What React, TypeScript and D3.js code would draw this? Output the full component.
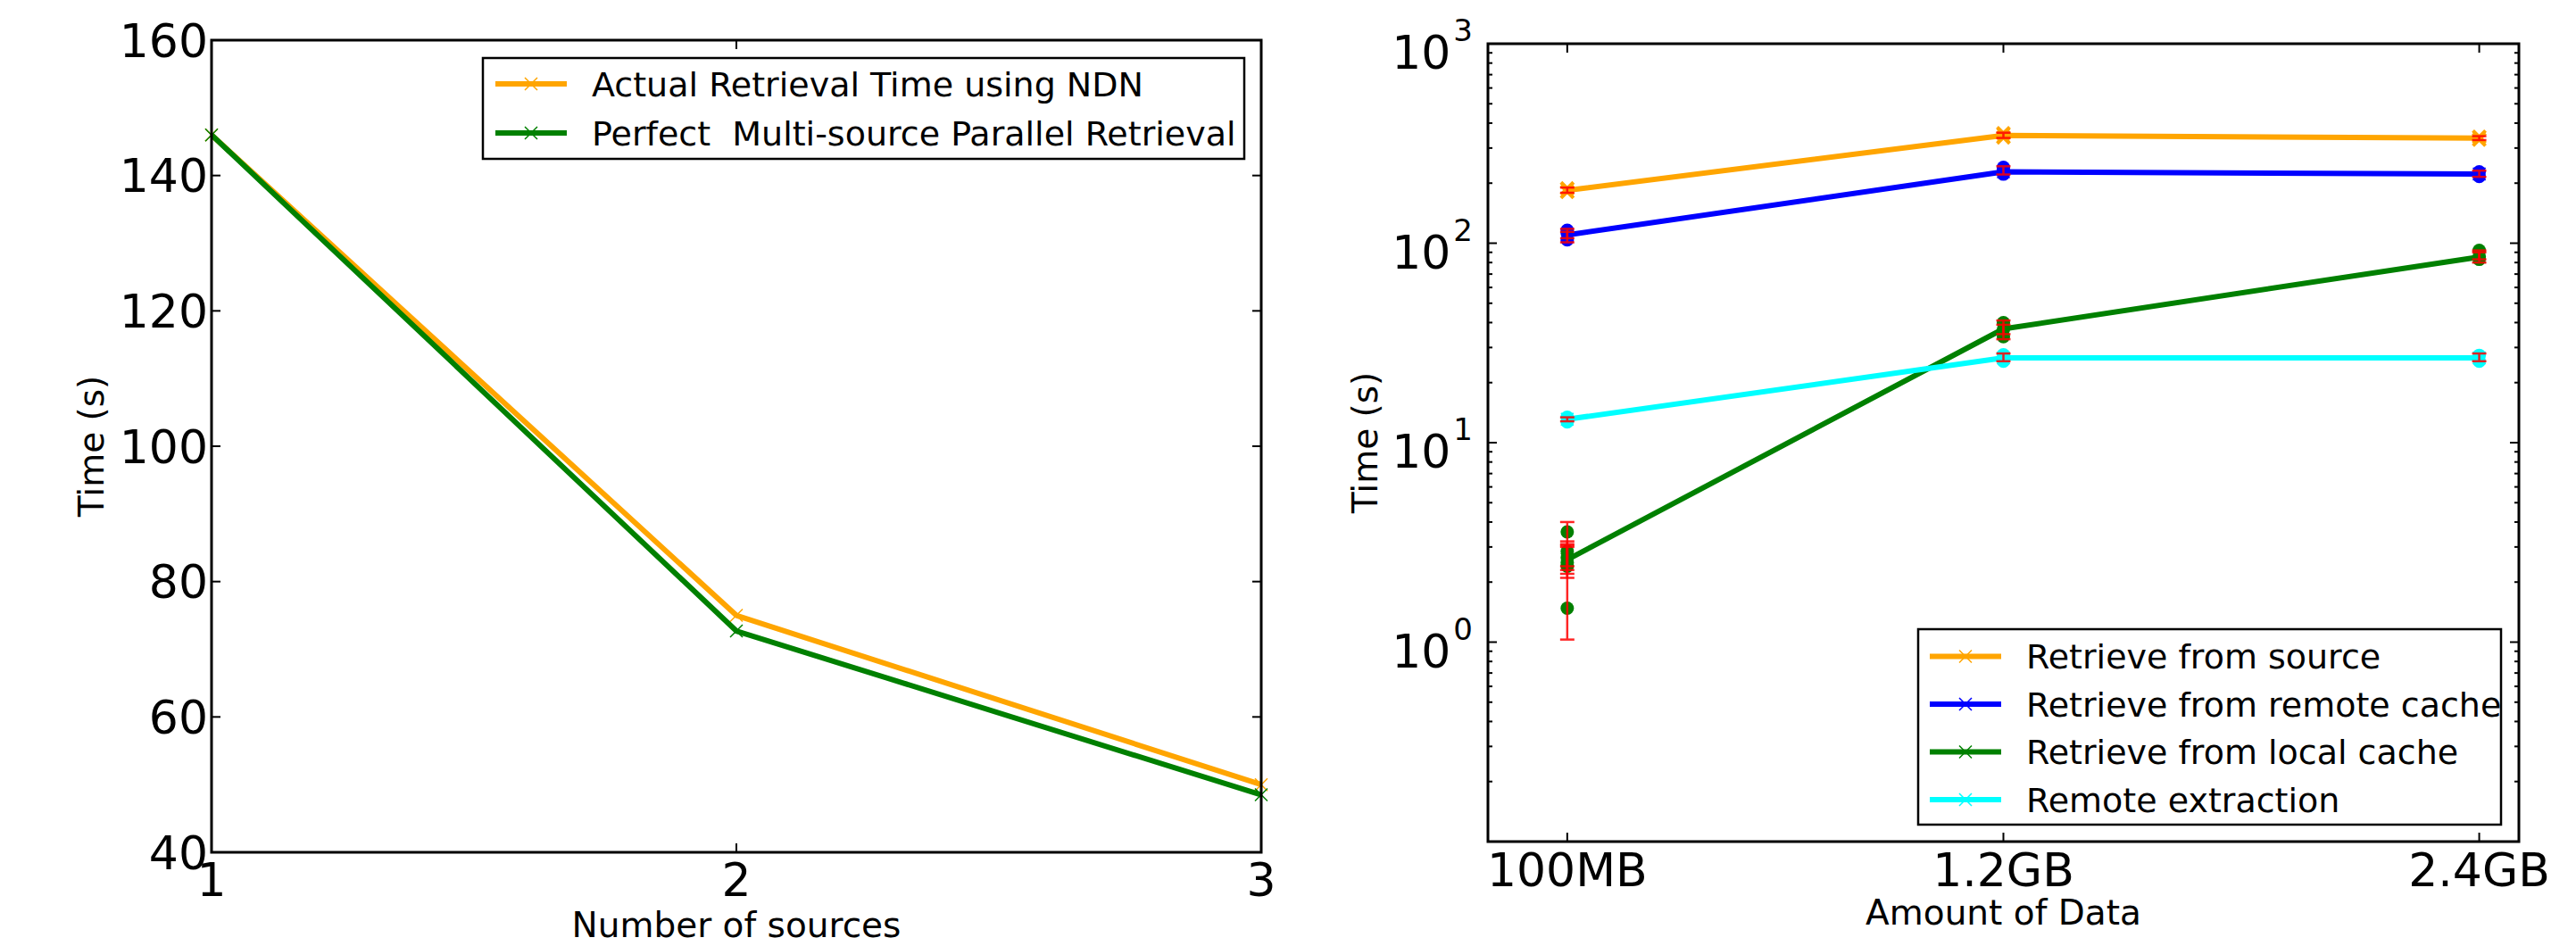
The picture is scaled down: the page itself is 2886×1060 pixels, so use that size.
import React, { useRef, useEffect } from "react";
import * as d3 from "d3";

// left panel: retrieval time vs number of sources
const sources = [1, 2, 3];
const actualNdn = [146, 75, 50];
const perfectParallel = [146, 72.7, 48.5];
const leftYTicks = [40, 60, 80, 100, 120, 140, 160];
const leftNames = ["Actual Retrieval Time using NDN", "Perfect  Multi-source Parallel Retrieval"];

// right panel: time vs amount of data (GB)
const dataSizes = [0.1, 1.2, 2.4];
const dataLabels = ["100MB", "1.2GB", "2.4GB"];
const rightNames = ["Retrieve from source", "Retrieve from remote cache", "Retrieve from local cache", "Remote extraction"];
const fromSource = [184, 347, 336];
const fromRemote = [110, 228, 222];
const fromLocal = [2.59, 37.2, 85.3];
const remoteExtract = [13.1, 26.6, 26.6];

// single runs (dots) per data size
const fromSourceRuns = [[181, 188], [340, 355], [331, 341]];
const fromRemoteRuns = [[104, 112, 116], [222, 232, 240], [216, 228]];
const fromLocalRuns = [[3.57, 2.85, 2.65, 2.5, 2.4, 1.48], [34, 37, 40], [83, 86, 92]];
const remoteExtractRuns = [[12.7, 13.4], [25.6, 27.6], [25.6, 27.4]];

// red error bars [low, high] per data size
const fromSourceErr = [[[179, 190]], [[337, 358]], [[329, 344]]];
const fromRemoteErr = [[[101, 118], [106, 114]], [[221, 243]], [[215, 231]]];
const fromLocalErr = [
  [[1.03, 4.0], [2.1, 3.2], [2.2, 3.1], [2.3, 3.05], [2.4, 3.0]],
  [[33, 41], [35, 39]],
  [[80, 92], [83, 90]],
];
const remoteExtractErr = [[[12.8, 13.4]], [[25.6, 28]], [[25.6, 28]]];

const W = 2886;
const H = 1060;
const FONT = "DejaVu Sans, sans-serif";

const drawX = (g, cx, cy, r, color, sw) => {
  g.append("path")
    .attr("d", `M${cx - r},${cy - r}L${cx + r},${cy + r}M${cx - r},${cy + r}L${cx + r},${cy - r}`)
    .attr("stroke", color)
    .attr("stroke-width", sw)
    .attr("fill", "none");
};

const App = () => {
  const svgRef = useRef();

  useEffect(() => {
    const svg = d3.select(svgRef.current);
    svg.selectAll("*").remove();
    svg.append("rect").attr("width", W).attr("height", H).attr("fill", "white");

    // ---------- left panel ----------
    const L = { left: 237, right: 1413, top: 45, bottom: 955 };
    const xL = d3.scaleLinear().domain([1, 3]).range([L.left, L.right]);
    const yL = d3.scaleLinear().domain([40, 160]).range([L.bottom, L.top]);
    const gL = svg.append("g");

    const leftSeries = [
      { values: actualNdn, color: "#FFA500" },
      { values: perfectParallel, color: "#008000" },
    ];
    const lineL = d3
      .line()
      .x((d, i) => xL(sources[i]))
      .y((d) => yL(d));
    leftSeries.forEach((s) => {
      gL.append("path")
        .datum(s.values)
        .attr("d", lineL)
        .attr("fill", "none")
        .attr("stroke", s.color)
        .attr("stroke-width", 6)
        .attr("stroke-linejoin", "round");
      s.values.forEach((v, i) => drawX(gL, xL(sources[i]), yL(v), 7, s.color, 1.5));
    });

    // ticks
    leftYTicks.forEach((t) => {
      gL.append("line").attr("x1", L.left).attr("x2", L.left + 10).attr("y1", yL(t)).attr("y2", yL(t)).attr("stroke", "black").attr("stroke-width", 2);
      gL.append("line").attr("x1", L.right).attr("x2", L.right - 10).attr("y1", yL(t)).attr("y2", yL(t)).attr("stroke", "black").attr("stroke-width", 2);
      gL.append("text")
        .attr("x", L.left - 4)
        .attr("y", yL(t))
        .attr("dy", "0.36em")
        .attr("text-anchor", "end")
        .style("font-size", "52px")
        .style("font-family", FONT)
        .text(t);
    });
    sources.forEach((t) => {
      gL.append("line").attr("x1", xL(t)).attr("x2", xL(t)).attr("y1", L.bottom).attr("y2", L.bottom - 10).attr("stroke", "black").attr("stroke-width", 2);
      gL.append("line").attr("x1", xL(t)).attr("x2", xL(t)).attr("y1", L.top).attr("y2", L.top + 10).attr("stroke", "black").attr("stroke-width", 2);
      gL.append("text")
        .attr("x", xL(t))
        .attr("y", L.bottom + 49)
        .attr("text-anchor", "middle")
        .style("font-size", "52px")
        .style("font-family", FONT)
        .text(t);
    });

    gL.append("rect")
      .attr("x", L.left)
      .attr("y", L.top)
      .attr("width", L.right - L.left)
      .attr("height", L.bottom - L.top)
      .attr("fill", "none")
      .attr("stroke", "black")
      .attr("stroke-width", 3);

    gL.append("text")
      .attr("x", (L.left + L.right) / 2)
      .attr("y", 1050)
      .attr("text-anchor", "middle")
      .style("font-size", "39px")
      .style("font-family", FONT)
      .text("Number of sources");
    gL.append("text")
      .attr("transform", `translate(116,${(L.top + L.bottom) / 2}) rotate(-90)`)
      .attr("text-anchor", "middle")
      .style("font-size", "39px")
      .style("font-family", FONT)
      .text("Time (s)");

    // legend
    const legL = gL.append("g");
    legL.append("rect").attr("x", 541).attr("y", 65).attr("width", 853).attr("height", 113).attr("fill", "white").attr("stroke", "black").attr("stroke-width", 2.5);
    leftSeries.forEach((s, i) => {
      const yy = 94 + i * 55;
      legL.append("line").attr("x1", 555).attr("x2", 635).attr("y1", yy).attr("y2", yy).attr("stroke", s.color).attr("stroke-width", 6);
      drawX(legL, 595, yy, 7, s.color, 1.5);
      legL.append("text")
        .attr("x", 663)
        .attr("y", yy)
        .attr("dy", "0.36em")
        .style("font-size", "38px")
        .style("font-family", FONT)
        .style("white-space", "pre")
        .text(leftNames[i]);
    });

    // ---------- right panel ----------
    const R = { left: 1667, right: 2822, top: 49, bottom: 943 };
    const xR = d3.scaleLinear().domain([-0.1, 2.5]).range([R.left, R.right]);
    const yR = d3.scaleLog().domain([0.1, 1000]).range([R.bottom, R.top]);
    const gR = svg.append("g");

    const rightSeries = [
      { values: fromSource, runs: fromSourceRuns, err: fromSourceErr, color: "#FFA500", dot: "x" },
      { values: fromRemote, runs: fromRemoteRuns, err: fromRemoteErr, color: "#0000FF", dot: "o" },
      { values: fromLocal, runs: fromLocalRuns, err: fromLocalErr, color: "#008000", dot: "o" },
      { values: remoteExtract, runs: remoteExtractRuns, err: remoteExtractErr, color: "#00FFFF", dot: "o" },
    ];
    const lineR = d3
      .line()
      .x((d, i) => xR(dataSizes[i]))
      .y((d) => yR(d));

    rightSeries.forEach((s) => {
      gR.append("path")
        .datum(s.values)
        .attr("d", lineR)
        .attr("fill", "none")
        .attr("stroke", s.color)
        .attr("stroke-width", 6)
        .attr("stroke-linejoin", "round");
      s.values.forEach((v, i) => drawX(gR, xR(dataSizes[i]), yR(v), 7, s.color, 1.5));
    });

    // single runs
    rightSeries.forEach((s) => {
      s.runs.forEach((runs, i) => {
        runs.forEach((v) => {
          if (s.dot === "x") {
            drawX(gR, xR(dataSizes[i]), yR(v), 7, s.color, 4);
          } else {
            gR.append("circle").attr("cx", xR(dataSizes[i])).attr("cy", yR(v)).attr("r", 7.5).attr("fill", s.color);
          }
        });
      });
    });

    // error bars
    rightSeries.forEach((s) => {
      s.err.forEach((bars, i) => {
        const cx = xR(dataSizes[i]);
        bars.forEach(([lo, hi]) => {
          const eg = gR.append("g").attr("stroke", "#FF0000").attr("stroke-width", 2.5).attr("opacity", 0.85);
          eg.append("line").attr("x1", cx).attr("x2", cx).attr("y1", yR(lo)).attr("y2", yR(hi));
          eg.append("line").attr("x1", cx - 8).attr("x2", cx + 8).attr("y1", yR(lo)).attr("y2", yR(lo));
          eg.append("line").attr("x1", cx - 8).attr("x2", cx + 8).attr("y1", yR(hi)).attr("y2", yR(hi));
        });
      });
    });

    // log ticks
    const decades = [0.1, 1, 10, 100, 1000];
    decades.forEach((d) => {
      [R.left, R.right].forEach((xs, k) => {
        const dir = k === 0 ? 1 : -1;
        gR.append("line").attr("x1", xs).attr("x2", xs + dir * 10).attr("y1", yR(d)).attr("y2", yR(d)).attr("stroke", "black").attr("stroke-width", 2);
      });
      if (d < 1000) {
        d3.range(2, 10).forEach((m) => {
          const v = d * m;
          [R.left, R.right].forEach((xs, k) => {
            const dir = k === 0 ? 1 : -1;
            gR.append("line").attr("x1", xs).attr("x2", xs + dir * 5).attr("y1", yR(v)).attr("y2", yR(v)).attr("stroke", "black").attr("stroke-width", 2);
          });
        });
      }
      if (d >= 1) {
        const exp = Math.round(Math.log10(d));
        const t = gR.append("text")
          .attr("x", R.left - 17)
          .attr("y", yR(d) + 28)
          .attr("text-anchor", "end")
          .style("font-family", FONT);
        t.append("tspan").style("font-size", "52px").text("10");
        t.append("tspan").attr("dy", -31).attr("dx", 3).style("font-size", "34px").text(exp);
      }
    });

    dataSizes.forEach((v, i) => {
      gR.append("line").attr("x1", xR(v)).attr("x2", xR(v)).attr("y1", R.bottom).attr("y2", R.bottom - 10).attr("stroke", "black").attr("stroke-width", 2);
      gR.append("line").attr("x1", xR(v)).attr("x2", xR(v)).attr("y1", R.top).attr("y2", R.top + 10).attr("stroke", "black").attr("stroke-width", 2);
      gR.append("text")
        .attr("x", xR(v))
        .attr("y", R.bottom + 50)
        .attr("text-anchor", "middle")
        .style("font-size", "52px")
        .style("font-family", FONT)
        .text(dataLabels[i]);
    });

    gR.append("rect")
      .attr("x", R.left)
      .attr("y", R.top)
      .attr("width", R.right - R.left)
      .attr("height", R.bottom - R.top)
      .attr("fill", "none")
      .attr("stroke", "black")
      .attr("stroke-width", 3);

    gR.append("text")
      .attr("x", (R.left + R.right) / 2)
      .attr("y", 1036)
      .attr("text-anchor", "middle")
      .style("font-size", "39px")
      .style("font-family", FONT)
      .text("Amount of Data");
    gR.append("text")
      .attr("transform", `translate(1543,${(R.top + R.bottom) / 2}) rotate(-90)`)
      .attr("text-anchor", "middle")
      .style("font-size", "39px")
      .style("font-family", FONT)
      .text("Time (s)");

    // legend
    const legR = gR.append("g");
    legR.append("rect").attr("x", 2149).attr("y", 705).attr("width", 653).attr("height", 219).attr("fill", "white").attr("stroke", "black").attr("stroke-width", 2.5);
    rightSeries.forEach((s, i) => {
      const yy = 735.5 + i * 53.5;
      legR.append("line").attr("x1", 2162).attr("x2", 2242).attr("y1", yy).attr("y2", yy).attr("stroke", s.color).attr("stroke-width", 6);
      drawX(legR, 2202, yy, 7, s.color, 1.5);
      legR.append("text")
        .attr("x", 2270)
        .attr("y", yy)
        .attr("dy", "0.36em")
        .style("font-size", "38px")
        .style("font-family", FONT)
        .text(rightNames[i]);
    });
  }, []);

  return (
    <svg
      ref={svgRef}
      width={W}
      height={H}
      style={{ position: "absolute", left: 0, top: 0, display: "block" }}
    ></svg>
  );
};

export default App;
